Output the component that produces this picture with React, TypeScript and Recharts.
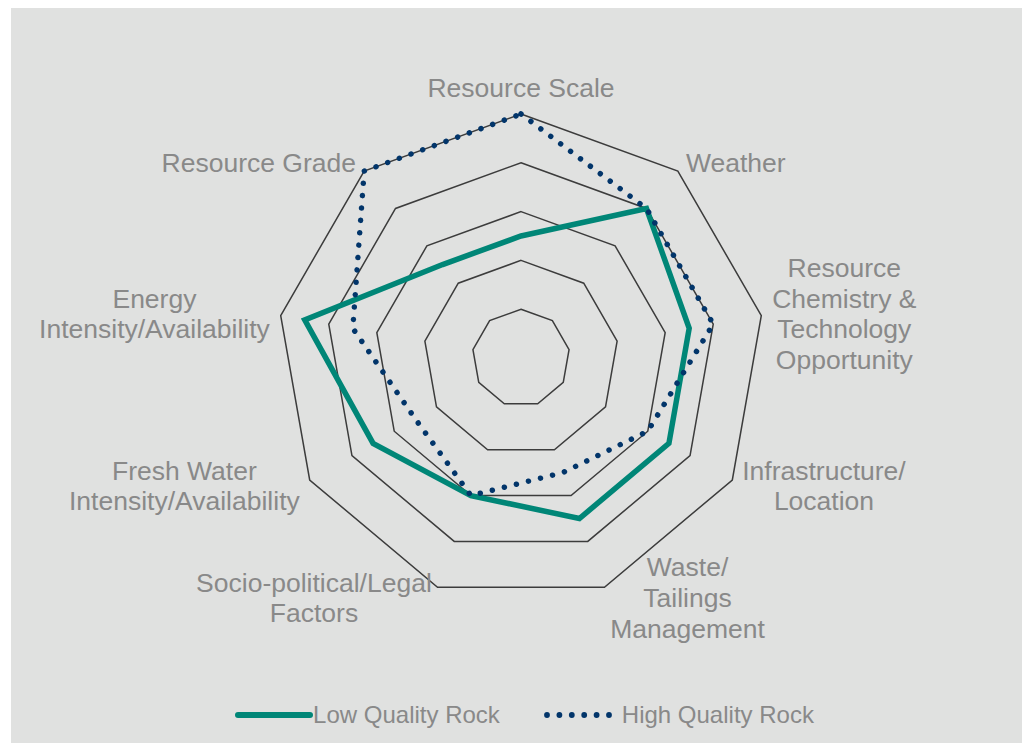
import React from 'react';
import { RadarChart, Radar, PolarGrid, PolarAngleAxis, PolarRadiusAxis, Legend } from 'recharts';

const categories = [
  'Resource Scale',
  'Weather',
  'Resource Chemistry & Technology Opportunity',
  'Infrastructure/ Location',
  'Waste/ Tailings Management',
  'Socio-political/Legal Factors',
  'Fresh Water Intensity/Availability',
  'Energy Intensity/Availability',
  'Resource Grade',
];

const categoryLines = [
  ['Resource Scale'],
  ['Weather'],
  ['Resource', 'Chemistry &', 'Technology', 'Opportunity'],
  ['Infrastructure/', 'Location'],
  ['Waste/', 'Tailings', 'Management'],
  ['Socio-political/Legal', 'Factors'],
  ['Fresh Water', 'Intensity/Availability'],
  ['Energy', 'Intensity/Availability'],
  ['Resource Grade'],
];

const lowQuality = [2.5, 4, 3.5, 3.5, 3.5, 3, 3.5, 4.5, 2.5];
const highQuality = [5, 4, 4, 3, 2.5, 3, 2.5, 3.5, 5];
const seriesNames = ['Low Quality Rock', 'High Quality Rock'];

const data = categories.map((c, i) => ({ category: c, low: lowQuality[i], high: highQuality[i] }));

const FONT = '"Liberation Sans", Arial, sans-serif';
const TEXT_COLOR = '#898989';
const TEAL = '#008677';
const NAVY = '#02356a';

let measureCtx: CanvasRenderingContext2D | null = null;
function measure(t: string, size: number): number {
  if (!measureCtx) {
    const c = document.createElement('canvas');
    measureCtx = c.getContext('2d');
  }
  if (!measureCtx) return t.length * size * 0.5;
  measureCtx.font = `${size}px "Liberation Sans"`;
  return measureCtx.measureText(t).width;
}

function AngleTick(props: any) {
  const { x, y, cx, cy, payload } = props;
  const idx = categories.indexOf(payload.value);
  const lines = idx >= 0 ? categoryLines[idx] : [String(payload.value)];
  const ang = Math.atan2(cy - y, x - cx);
  const c = Math.cos(ang);
  const s = Math.sin(ang);
  const fs = 26.5;
  const lh = 30.7;
  const maxW = Math.max(...lines.map((l) => measure(l, fs)));
  let centerX: number;
  if (Math.abs(c) < 0.05) centerX = x;
  else if (c > 0) centerX = x + 3 + maxW / 2;
  else centerX = x - 3 - maxW / 2;
  let blockCenter = y - 3 * s;
  if (Math.abs(c) < 0.05) blockCenter = s > 0 ? y - lh / 2 - 3 : y + lh / 2 + 3;
  const n = lines.length;
  return (
    <g>
      {lines.map((l, i) => (
        <text
          key={i}
          x={centerX}
          y={blockCenter + (i - (n - 1) / 2) * lh + 0.355 * fs}
          textAnchor="middle"
          fontFamily={FONT}
          fontSize={fs}
          fill={TEXT_COLOR}
        >
          {l}
        </text>
      ))}
    </g>
  );
}

function LegendContent() {
  return (
    <div
      style={{
        display: 'flex',
        alignItems: 'center',
        justifyContent: 'center',
        width: '100%',
        height: 30,
        paddingLeft: 8,
        boxSizing: 'border-box',
        fontFamily: FONT,
        fontSize: 24,
        color: TEXT_COLOR,
      }}
    >
      <svg width={78} height={20} style={{ display: 'block' }}>
        <line x1={3} y1={10} x2={75} y2={10} stroke={TEAL} strokeWidth={6} strokeLinecap="round" />
      </svg>
      <span style={{ whiteSpace: 'nowrap' }}>{seriesNames[0]}</span>
      <svg width={79} height={20} style={{ display: 'block', marginLeft: 43 }}>
        {[0, 1, 2, 3, 4, 5].map((i) => (
          <circle key={i} cx={4 + i * 12.4} cy={10} r={2.9} fill={NAVY} />
        ))}
      </svg>
      <span style={{ whiteSpace: 'nowrap' }}>{seriesNames[1]}</span>
    </div>
  );
}

export default function App() {
  return (
    <div
      style={{
        position: 'relative',
        marginLeft: 3,
        marginTop: -6,
        width: 1019,
        height: 741,
        background: '#e0e1e0',
      }}
    >
      <RadarChart
        width={1019}
        height={741}
        data={data}
        cx={510}
        cy={356}
        outerRadius={244}
        margin={{ top: 0, right: 0, bottom: 0, left: 0 }}
        startAngle={90}
        endAngle={-270}
      >
        <PolarGrid gridType="polygon" radialLines={false} stroke="#3c3c3c" strokeWidth={1.5} />
        <PolarRadiusAxis domain={[0, 5]} tickCount={6} tick={false} axisLine={false} />
        <PolarAngleAxis dataKey="category" tick={AngleTick} axisLine={false} tickLine={false} />
        <Radar
          name={seriesNames[0]}
          dataKey="low"
          stroke={TEAL}
          strokeWidth={5.5}
          fill="none"
          fillOpacity={0}
          dot={false}
          strokeLinejoin="miter"
          isAnimationActive={false}
        />
        <Radar
          name={seriesNames[1]}
          dataKey="high"
          stroke={NAVY}
          strokeWidth={5.5}
          strokeDasharray="0.01 12.4"
          strokeLinecap="round"
          fill="none"
          fillOpacity={0}
          dot={false}
          isAnimationActive={false}
        />
        <Legend
          content={<LegendContent />}
          wrapperStyle={{ position: 'absolute', left: 0, top: 698, width: 1019, height: 30 }}
        />
      </RadarChart>
    </div>
  );
}
